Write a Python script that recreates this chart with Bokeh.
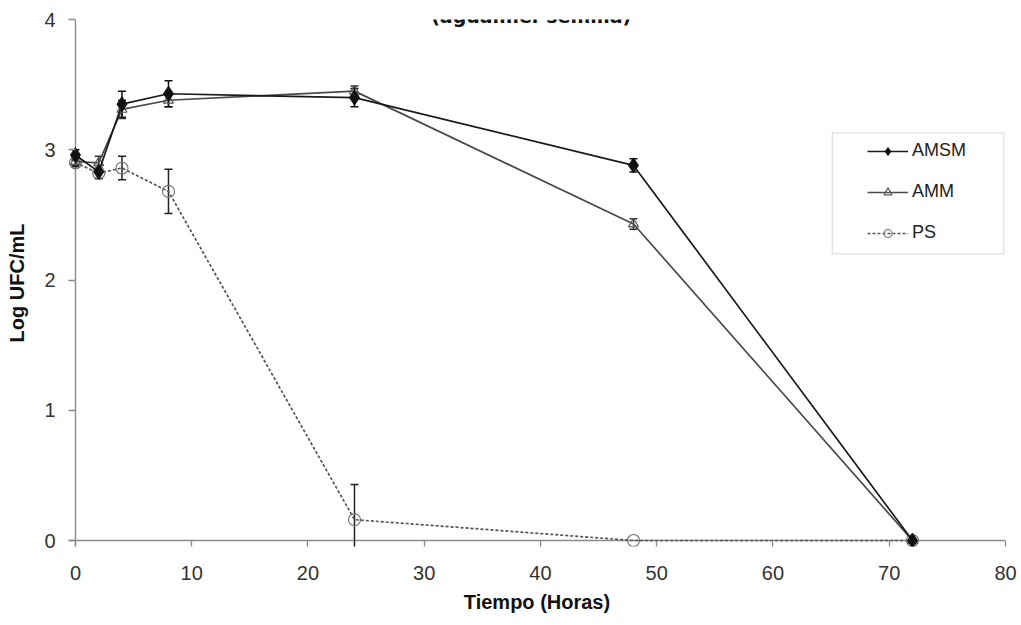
from bokeh.plotting import figure
from bokeh.models import (ColumnDataSource, Whisker, TeeHead, Span, Label, Legend,
                          LegendItem, BoxAnnotation, FixedTicker, Range1d)
from bokeh.embed import file_html
from bokeh.resources import INLINE

# Sampling times (hours)
tiempo = [0, 2, 4, 8, 24, 48, 72]

# Log UFC/mL per treatment, with standard deviations
amsm = [2.96, 2.83, 3.35, 3.43, 3.40, 2.88, 0.0]
amsm_sd = [0.04, 0.05, 0.10, 0.10, 0.07, 0.05, 0.0]
amm = [2.91, 2.90, 3.31, 3.38, 3.45, 2.43, 0.0]
amm_sd = [0.03, 0.05, 0.07, 0.05, 0.04, 0.04, 0.0]
ps = [2.90, 2.82, 2.86, 2.68, 0.16, 0.0, 0.0]
ps_sd = [0.03, 0.04, 0.09, 0.17, 0.27, 0.0, 0.0]

x_ticks = [0, 10, 20, 30, 40, 50, 60, 70, 80]
y_ticks = [0, 1, 2, 3, 4]

FONT = "Liberation Sans"
AXIS_GREY = "#8a8a8a"

p = figure(width=1021, height=625,
           x_range=Range1d(-0.6, 80), y_range=Range1d(-0.046, 4),
           output_backend="svg", toolbar_location=None,
           min_border_left=68, min_border_right=16,
           min_border_top=19, min_border_bottom=79)
p.outline_line_color = None
p.xgrid.visible = False
p.ygrid.visible = False
p.background_fill_color = "white"
p.border_fill_color = "white"

# Axis lines sit at the data origin; the frame keeps a little room for markers
p.add_layout(Span(location=0, dimension="height", line_color=AXIS_GREY,
                  line_width=1.4, level="underlay"))
p.add_layout(Span(location=0, dimension="width", line_color=AXIS_GREY,
                  line_width=1.4, level="underlay"))

for ax in (p.xaxis[0], p.yaxis[0]):
    ax.axis_line_color = None
    ax.major_tick_line_color = AXIS_GREY
    ax.major_tick_line_width = 1.3
    ax.minor_tick_line_color = None
    ax.major_tick_out = 0
    ax.major_label_text_font = FONT
    ax.major_label_text_font_size = "20px"
    ax.major_label_text_color = "#333333"
    ax.axis_label_text_font = FONT
    ax.axis_label_text_font_size = "20px"
    ax.axis_label_text_font_style = "bold"
    ax.axis_label_text_color = "#111111"

p.xaxis.ticker = FixedTicker(ticks=x_ticks)
p.yaxis.ticker = FixedTicker(ticks=y_ticks)
p.xaxis.major_tick_in = 6
p.yaxis.major_tick_in = 7
p.xaxis.major_label_standoff = 19
p.yaxis.major_label_standoff = 13
p.xaxis.axis_label = "Tiempo (Horas)"
p.yaxis.axis_label = "Log UFC/mL"
p.xaxis.axis_label_standoff = 8
p.yaxis.axis_label_standoff = 13


def error_source(xs, ys, sds):
    rows = [(x, y + s, y - s) for x, y, s in zip(xs, ys, sds) if s > 0]
    return ColumnDataSource(dict(x=[r[0] for r in rows],
                                 upper=[r[1] for r in rows],
                                 lower=[r[2] for r in rows]))


def add_errors(xs, ys, sds, color):
    w = Whisker(base="x", upper="upper", lower="lower",
                source=error_source(xs, ys, sds),
                line_color=color, line_width=1.5,
                upper_head=TeeHead(size=8, line_color=color, line_width=1.5),
                lower_head=TeeHead(size=8, line_color=color, line_width=1.5))
    p.add_layout(w)


add_errors(tiempo, ps, ps_sd, "#222222")
add_errors(tiempo, amm, amm_sd, "#333333")
add_errors(tiempo, amsm, amsm_sd, "#111111")

ps_line = p.line(tiempo, ps, line_color="#555555", line_width=1.7, line_dash="3 2")
ps_mark = p.scatter(tiempo, ps, marker="circle", size=12, fill_color=None,
                    line_color="#777777", line_width=1.2)

amm_line = p.line(tiempo, amm, line_color="#4a4a4a", line_width=1.7)
amm_mark = p.scatter(tiempo, amm, marker="triangle", size=10, fill_color=None,
                     line_color="#555555", line_width=1.2)

amsm_line = p.line(tiempo, amsm, line_color="#1a1a1a", line_width=1.7)
amsm_mark = p.scatter(tiempo, amsm, marker="diamond", size=15,
                      fill_color="#111111", line_color="#111111")

# Title (second line of the heading)
p.add_layout(Label(x=39.2, y=4, y_offset=4, text="(aguamiel-semilla)",
                   text_align="center", text_baseline="alphabetic",
                   text_font="DejaVu Sans", text_font_size="19px",
                   text_font_style="bold", text_color="#111111"))

# Legend frame and entries
p.add_layout(BoxAnnotation(left=65.1, right=79.85, bottom=2.2, top=3.13,
                           fill_alpha=0, line_color="#9a9a9a", line_width=1.3,
                           level="annotation"))
legend = Legend(items=[
    LegendItem(label="AMSM", renderers=[amsm_line, amsm_mark]),
    LegendItem(label="AMM", renderers=[amm_line, amm_mark]),
    LegendItem(label="PS", renderers=[ps_line, ps_mark]),
], location=(799, 303), padding=0, spacing=20, label_height=20,
    glyph_height=20, glyph_width=41, label_standoff=4,
    border_line_color=None, background_fill_alpha=0,
    label_text_font=FONT, label_text_font_size="18px",
    label_text_color="#222222", margin=0)
p.add_layout(legend)

open("out.html", "w").write(file_html(p, INLINE))
